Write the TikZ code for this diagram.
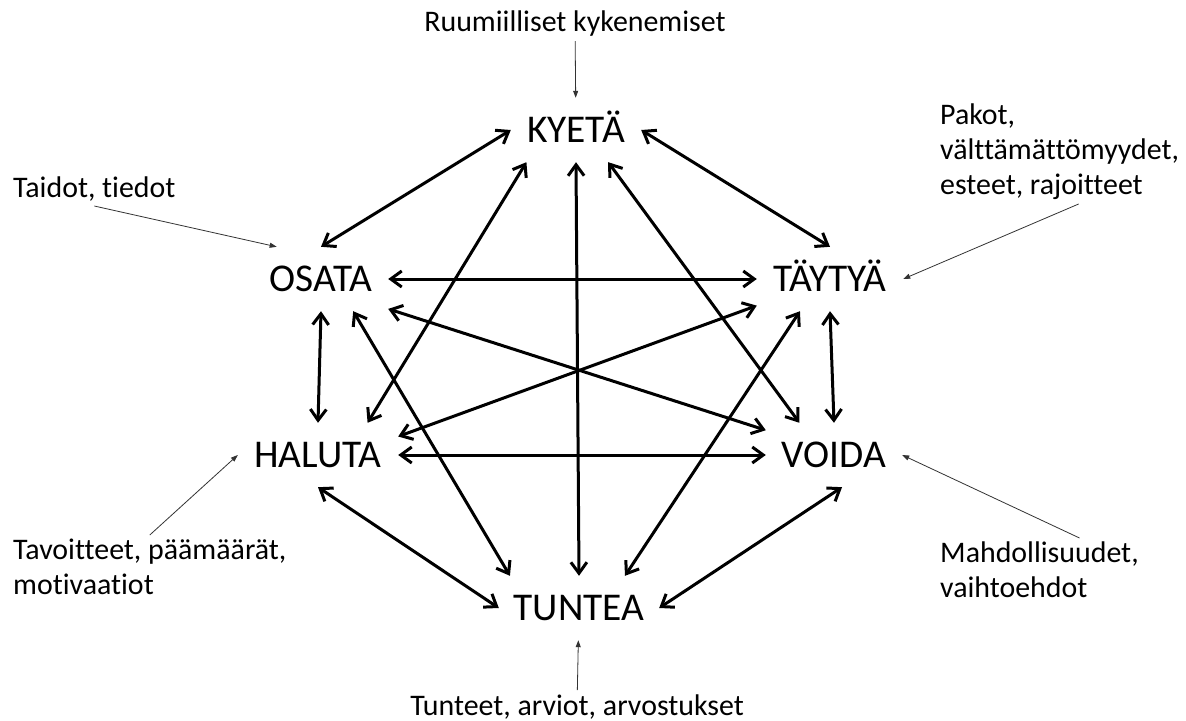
\documentclass[tikz,border=0pt]{standalone}
\usepackage{fontspec}
\setmainfont{Carlito}[Ligatures=NoCommon]
\usetikzlibrary{arrows.meta,positioning}

\tikzset{
  verb/.style={font=\fontsize{39.5}{46}\selectfont, minimum height=64bp, inner sep=0pt, text height=25bp, text depth=0pt},
  note/.style={font=\fontsize{30}{35}\selectfont, align=left, inner sep=4bp},
  link/.style={{Straight Barb[length=11bp,width=16bp]}-{Straight Barb[length=11bp,width=16bp]}, line width=3bp},
  hint/.style={-{Triangle[length=7bp,width=5bp]}, line width=0.8bp, black!80}
}

\begin{document}
\begin{tikzpicture}[x=1bp, y=-1bp]
    \path[use as bounding box, fill=white] (0,0) rectangle (1186,721);

    % Verbs
    \node[verb, minimum width=130bp] (kyeta) at (576,130) {KYETÄ};
    \node[verb, minimum width=134bp] (osata) at (321,279) {OSATA};
    \node[verb, minimum width=146bp] (taytya) at (830,279) {TÄYTYÄ};
    \node[verb, minimum width=160bp] (haluta) at (318,455) {HALUTA};
    \node[verb, minimum width=136bp] (voida) at (834,455) {VOIDA};
    \node[verb, minimum width=160bp] (tuntea) at (579,608) {TUNTEA};

    % Links between all verbs
    \draw[link] (kyeta.west) -- (osata.north);
    \draw[link] (kyeta.east) -- (taytya.north);
    \draw[link] (kyeta.213) -- (haluta.33);
    \draw[link] (kyeta.south) -- (tuntea.north);
    \draw[link] (kyeta.-45) -- (voida.137);
    \draw[link] (osata.east) -- (taytya.west);
    \draw[link] (osata.-24) -- (voida.160);
    \draw[link] (osata.-45) -- (tuntea.155);
    \draw[link] (osata.south) -- (haluta.north);
    \draw[link] (taytya.200) -- (haluta.13);
    \draw[link] (taytya.227) -- (tuntea.35);
    \draw[link] (taytya.south) -- (voida.north);
    \draw[link] (haluta.east) -- (voida.west);
    \draw[link] (haluta.south) -- (tuntea.west);
    \draw[link] (voida.-76) -- (tuntea.east);

    % Notes
    \node[note, anchor=base] (ruum) at (575,32) {Ruumiilliset kykenemiset};
    \node[note, anchor=base west] (taidot) at (9,198) {Taidot, tiedot};
    \node[note, anchor=north west] (pakot) at (936,100) {Pakot,\\välttämättömyydet,\\esteet, rajoitteet};
    \node[note, anchor=north west] (tavoitteet) at (9,535) {Tavoitteet, päämäärät,\\motivaatiot};
    \node[note, anchor=north west] (mahd) at (936,538) {Mahdollisuudet,\\vaihtoehdot};
    \node[note, anchor=base] (tunteet) at (577,715) {Tunteet, arviot, arvostukset};

    \draw[hint] (ruum) -- (kyeta);
    \draw[hint] (taidot.south) -- (osata.144);
    \draw[hint] ([xshift=19bp]pakot.south) -- (taytya.east);
    \draw[hint] (tavoitteet.north) -- (haluta.west);
    \draw[hint] ([xshift=40bp]mahd.north) -- (voida.east);
    \draw[hint] (tunteet) -- (tuntea);
\end{tikzpicture}
\end{document}
